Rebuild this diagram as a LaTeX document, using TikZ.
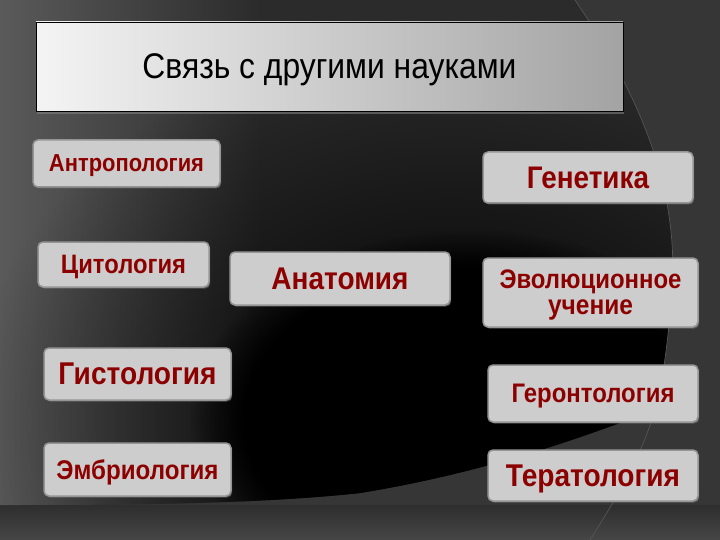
\documentclass[tikz,border=0pt]{standalone}
\usepackage{fontspec}
\setmainfont{Liberation Sans}
\usetikzlibrary{shadows,fadings}
\tikzfading[name=softfade, inner color=transparent!0, outer color=transparent!100]
\definecolor{bgbase}{HTML}{363636}
\definecolor{bgmid}{HTML}{2B2B2B}
\definecolor{bgleft}{HTML}{5A5A5A}
\definecolor{arcline}{HTML}{555555}
\definecolor{boxfill}{HTML}{CDCDCD}
\definecolor{boxline}{HTML}{959595}
\definecolor{txt}{RGB}{140,0,0}
\definecolor{titleL}{HTML}{F4F4F4}
\definecolor{titleR}{HTML}{A3A3A3}
\newcommand\fitw[2]{\scalebox{1}[1.12]{\resizebox{#1pt}{!}{#2}}}
\begin{document}
\begin{tikzpicture}[x=1pt,y=-1pt,
  box/.style={draw=boxline, line width=1.5pt, fill=boxfill, rounded corners=5pt,
    inner sep=0pt, font=\bfseries, text=txt, align=center, text depth=0pt,
    drop shadow={shadow xshift=1.2pt, shadow yshift=-1.5pt, opacity=0.55}},
  titlebox/.style={draw=black, line width=0.6pt, left color=titleL, right color=titleR,
    inner sep=0pt, text=black, text depth=0pt,
    drop shadow={shadow xshift=1pt, shadow yshift=-3pt, opacity=0.6}}]
\useasboundingbox (0,0) rectangle (720,540);
% background
\fill[bgbase] (0,0) rectangle (720,540);
\shade[top color=bgbase!85!black, bottom color=bgbase!92!white] (0,505) rectangle (720,540);
\begin{scope}
  \clip (0,0) -- (575,0) .. controls (650,110) and (678,200) .. (672,290)
    .. controls (668,345) and (662,385) .. (655,410)
    .. controls (600,430) and (500,470) .. (360,493)
    .. controls (250,505) and (100,505) .. (0,505) -- cycle;
  \fill[bgmid] (0,0) rectangle (720,540);
  \shade[left color=bgleft, right color=bgmid] (0,0) rectangle (260,540);
  \fill[black, path fading=softfade] (450,420) ellipse [x radius=480, y radius=380];
  \fill[black, path fading=circle with fuzzy edge 20 percent] (470,420) ellipse [x radius=280, y radius=190];
\end{scope}
\draw[arcline, line width=0.7pt] (575,0) .. controls (650,110) and (678,200) .. (672,290)
    .. controls (668,345) and (662,385) .. (655,410)
    .. controls (640,460) and (615,500) .. (590,540);
% title
\node[titlebox, minimum width=587pt, minimum height=89pt] (title) at (329.5,66.5)
  {\fitw{374}{Связь с другими науками}};
% left column
\node[box, minimum width=187pt, minimum height=47pt] (antr) at (126.5,163.5) {\fitw{155}{Антропология}};
\node[box, minimum width=171pt, minimum height=45pt] (cito) at (123.5,264.5) {\fitw{125}{Цитология}};
\node[box, minimum width=187pt, minimum height=52pt] (gist) at (137.5,374) {\fitw{158}{Гистология}};
\node[box, minimum width=187pt, minimum height=53pt] (embr) at (137.5,469.5) {\fitw{162}{Эмбриология}};
% centre
\node[box, minimum width=220pt, minimum height=53pt] (anat) at (340,278.5) {\fitw{137}{Анатомия}};
% right column
\node[box, minimum width=210pt, minimum height=51pt] (gen) at (588,177.5) {\fitw{122}{Генетика}};
\node[box, minimum width=215pt, minimum height=69pt, font=\bfseries\fontsize{18}{26}\selectfont] (evol) at (590.5,292.5)
  {\fitw{182}{Эволюционное}\\\fitw{85}{учение}};
\node[box, minimum width=210pt, minimum height=57pt] (geron) at (593,393.5) {\fitw{163}{Геронтология}};
\node[box, minimum width=210pt, minimum height=51pt] (terat) at (593,475.5) {\fitw{174}{Тератология}};
\end{tikzpicture}
\end{document}
